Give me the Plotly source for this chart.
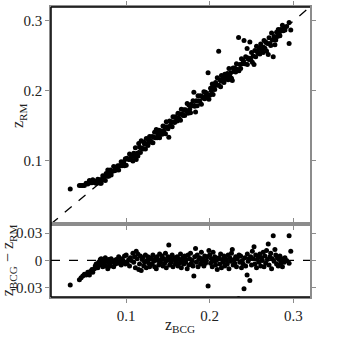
import plotly.graph_objects as go
from plotly.subplots import make_subplots

# BCG redshift and residual (z_BCG - z_RM)
z_bcg = [
    0.033, 0.044, 0.046, 0.048, 0.050, 0.052, 0.054, 0.056, 0.057, 0.059, 0.060, 0.062, 0.063, 0.064, 0.066, 0.067, 0.068, 0.069,
    0.070, 0.071, 0.072, 0.073, 0.074, 0.075, 0.076, 0.077, 0.078, 0.079, 0.080, 0.081, 0.082, 0.083, 0.085, 0.086, 0.087, 0.088,
    0.090, 0.091, 0.092, 0.094, 0.095, 0.096, 0.097, 0.098, 0.099,
    0.100, 0.101, 0.103, 0.104, 0.105, 0.106, 0.108, 0.109, 0.110, 0.111, 0.112, 0.113, 0.114, 0.115, 0.116, 0.117, 0.118, 0.119,
    0.120, 0.121, 0.122, 0.123, 0.124, 0.125, 0.126, 0.127, 0.128, 0.129,
    0.130, 0.131, 0.132, 0.133, 0.134, 0.135, 0.136, 0.137, 0.138, 0.139, 0.140, 0.141, 0.142, 0.143, 0.144, 0.145, 0.146, 0.147,
    0.148, 0.149, 0.150, 0.151, 0.152, 0.153, 0.154, 0.155, 0.156, 0.157, 0.158, 0.159,
    0.160, 0.161, 0.162, 0.163, 0.164, 0.165, 0.166, 0.167, 0.168, 0.169, 0.170, 0.171, 0.172, 0.173, 0.174, 0.175, 0.176, 0.177,
    0.178, 0.179, 0.180, 0.181, 0.182, 0.183, 0.184, 0.185, 0.186, 0.187, 0.188, 0.189, 0.190, 0.191, 0.192, 0.193, 0.194, 0.195,
    0.196, 0.197, 0.198, 0.199,
    0.200, 0.201, 0.202, 0.203, 0.204, 0.205, 0.206, 0.207, 0.208, 0.209, 0.2107, 0.211, 0.212, 0.213, 0.214, 0.215, 0.216, 0.217,
    0.218, 0.219, 0.220, 0.221, 0.222, 0.223, 0.224, 0.225, 0.226, 0.227, 0.228, 0.229, 0.230, 0.231, 0.232, 0.233, 0.2345, 0.235,
    0.236, 0.237, 0.238, 0.239, 0.240, 0.241, 0.242, 0.243, 0.2447, 0.245, 0.246, 0.247, 0.248, 0.249,
    0.250, 0.251, 0.252, 0.253, 0.254, 0.255, 0.256, 0.257, 0.258, 0.259, 0.260, 0.261, 0.262, 0.263, 0.264, 0.265, 0.266, 0.267,
    0.268, 0.269, 0.270, 0.271, 0.272, 0.273, 0.274, 0.275, 0.276, 0.277, 0.278, 0.279, 0.280, 0.281, 0.282, 0.283, 0.284, 0.285,
    0.286, 0.287, 0.288, 0.289, 0.290, 0.292, 0.295, 0.295, 0.297,
]
dz = [
    -0.027, -0.021, -0.019, -0.017, -0.015, -0.016, -0.013, -0.016, -0.012, -0.010, -0.013, -0.009, -0.006, -0.004, -0.008, -0.002, -0.005, 0.001,
    0.002, -0.003, -0.007, 0.000, -0.004, 0.003, -0.006, -0.001, -0.009, 0.001, -0.003, -0.006, 0.002, -0.002, -0.007, 0.000, -0.004, 0.001,
    -0.003, 0.004, -0.001, -0.005, 0.002, 0.000, -0.002, 0.005, -0.004,
    0.006, -0.003, 0.001, -0.006, 0.003, 0.000, 0.008, -0.002, 0.004, -0.008, 0.010, 0.002, 0.007, -0.010, -0.004, 0.005, -0.011, 0.001,
    0.003, -0.006, -0.002, 0.006, -0.008, 0.000, 0.004, -0.003, -0.007, 0.002,
    0.003, -0.004, 0.006, -0.001, -0.007, 0.002, -0.009, 0.004, 0.000, -0.005, 0.007, -0.002, 0.001, 0.005, -0.006, 0.002, -0.003, 0.008,
    -0.008, 0.000, 0.004, 0.017, -0.005, 0.002, -0.002, 0.006, -0.007, 0.001, 0.003, -0.004,
    -0.001, 0.004, -0.006, 0.002, -0.003, 0.007, -0.008, 0.000, 0.003, -0.004, 0.005, -0.002, 0.001, -0.009, 0.006, -0.005, 0.002, 0.008,
    -0.003, 0.000, -0.006, -0.017, 0.004, 0.013, -0.002, 0.006, -0.007, 0.001, 0.003, -0.004, 0.009, -0.001, 0.002, -0.006, 0.005, -0.003,
    0.000, 0.004, -0.028, 0.011,
    0.006, -0.003, 0.002, -0.007, 0.009, -0.001, 0.004, -0.005, 0.000, -0.010, -0.046, 0.003, -0.004, 0.007, -0.008, 0.001, -0.002, 0.005,
    -0.006, 0.002, 0.000, -0.004, 0.006, -0.009, 0.003, -0.001, 0.008, 0.012, -0.005, 0.001, -0.003, 0.004, -0.007, 0.002, -0.042, 0.006,
    -0.002, 0.005, -0.008, 0.000, -0.004, -0.031, 0.003, -0.006, -0.016, 0.007, -0.001, 0.002, -0.022, 0.004,
    -0.005, 0.010, 0.002, 0.015, -0.004, 0.006, -0.008, 0.001, 0.004, -0.002, 0.007, -0.006, 0.003, 0.000, 0.009, -0.007, 0.005, -0.003,
    0.011, 0.001, 0.018, -0.005, 0.004, 0.008, -0.009, 0.002, 0.027, -0.001, 0.012, 0.006, -0.004, 0.003, -0.006, 0.001, 0.005, -0.003,
    0.000, -0.007, 0.002, -0.002, 0.003, 0.000, 0.027, -0.003, 0.010,
]
z_rm = [x - d for x, d in zip(z_bcg, dz)]

one_to_one = [0.01, 0.32]

font = "Liberation Serif, Times New Roman, DejaVu Serif, serif"
ink = "#222"
spine_gray = "#8c8c8c"

fig = make_subplots(rows=2, cols=1, shared_xaxes=True, vertical_spacing=0,
                    row_heights=[0.748, 0.252])

fig.add_trace(go.Scatter(x=one_to_one, y=one_to_one, mode="lines",
                         line=dict(color="black", width=1.3, dash="dash"),
                         hoverinfo="skip"), row=1, col=1)
fig.add_trace(go.Scatter(x=z_bcg, y=z_rm, mode="markers",
                         marker=dict(color="black", size=5)), row=1, col=1)
fig.add_trace(go.Scatter(x=z_bcg, y=dz, mode="markers",
                         marker=dict(color="black", size=5)), row=2, col=1)
fig.add_hline(y=0, line=dict(color="black", width=1.3, dash="dash"), row=2, col=1)

axis_style = dict(showline=True, linecolor=spine_gray, linewidth=1.5, mirror="ticks",
                  ticks="outside", ticklen=4, tickcolor=spine_gray, tickwidth=1,
                  showgrid=False, zeroline=False, automargin=False,
                  tickfont=dict(family=font, size=15, color=ink))

fig.update_xaxes(axis_style)
fig.update_yaxes(axis_style)
fig.update_xaxes(range=[0.01, 0.32], tickvals=[0.1, 0.2, 0.3], ticktext=["0.1", "0.2", "0.3"])
fig.update_yaxes(range=[0.01, 0.32], tickvals=[0.1, 0.2, 0.3], ticktext=["0.1", "0.2", "0.3"],
                 row=1, col=1)
fig.update_yaxes(range=[-0.04, 0.04], tickvals=[-0.03, 0, 0.03], ticktext=["-0.03", "0", "0.03"],
                 ticklabelstandoff=0, row=2, col=1)

# black spines on left, bottom and top; right side and divider stay gray
for x0, y0, x1, y1 in [(0, 0, 0, 1), (0, 0, 1, 0), (0, 1, 1, 1)]:
    fig.add_shape(type="line", xref="paper", yref="paper", x0=x0, y0=y0, x1=x1, y1=y1,
                  line=dict(color="black", width=1.5))

# axis titles, centred on their panels
title_font = dict(family=font, size=16, color=ink)
fig.add_annotation(text="z<sub>RM</sub>", xref="paper", yref="paper", x=-0.125, y=0.626,
                   xanchor="center", yanchor="middle",
                   textangle=-90, showarrow=False, font=title_font)
fig.add_annotation(text="z<sub>BCG</sub> − z<sub>RM</sub>", xref="paper", yref="paper",
                   x=-0.163, y=0.126, xanchor="center", yanchor="middle",
                   textangle=-90, showarrow=False, font=title_font)
fig.add_annotation(text="z<sub>BCG</sub>", xref="paper", yref="paper", x=0.498, y=-0.097,
                   xanchor="center", yanchor="middle",
                   showarrow=False, font=title_font)

fig.update_layout(
    width=342, height=338,
    margin=dict(l=51, r=32, t=7, b=41),
    plot_bgcolor="white", paper_bgcolor="white",
    showlegend=False,
    font=dict(family=font, color=ink),
)

fig.write_html("out.html", config={"displayModeBar": False},
               post_script="document.body.style.margin='0';")
